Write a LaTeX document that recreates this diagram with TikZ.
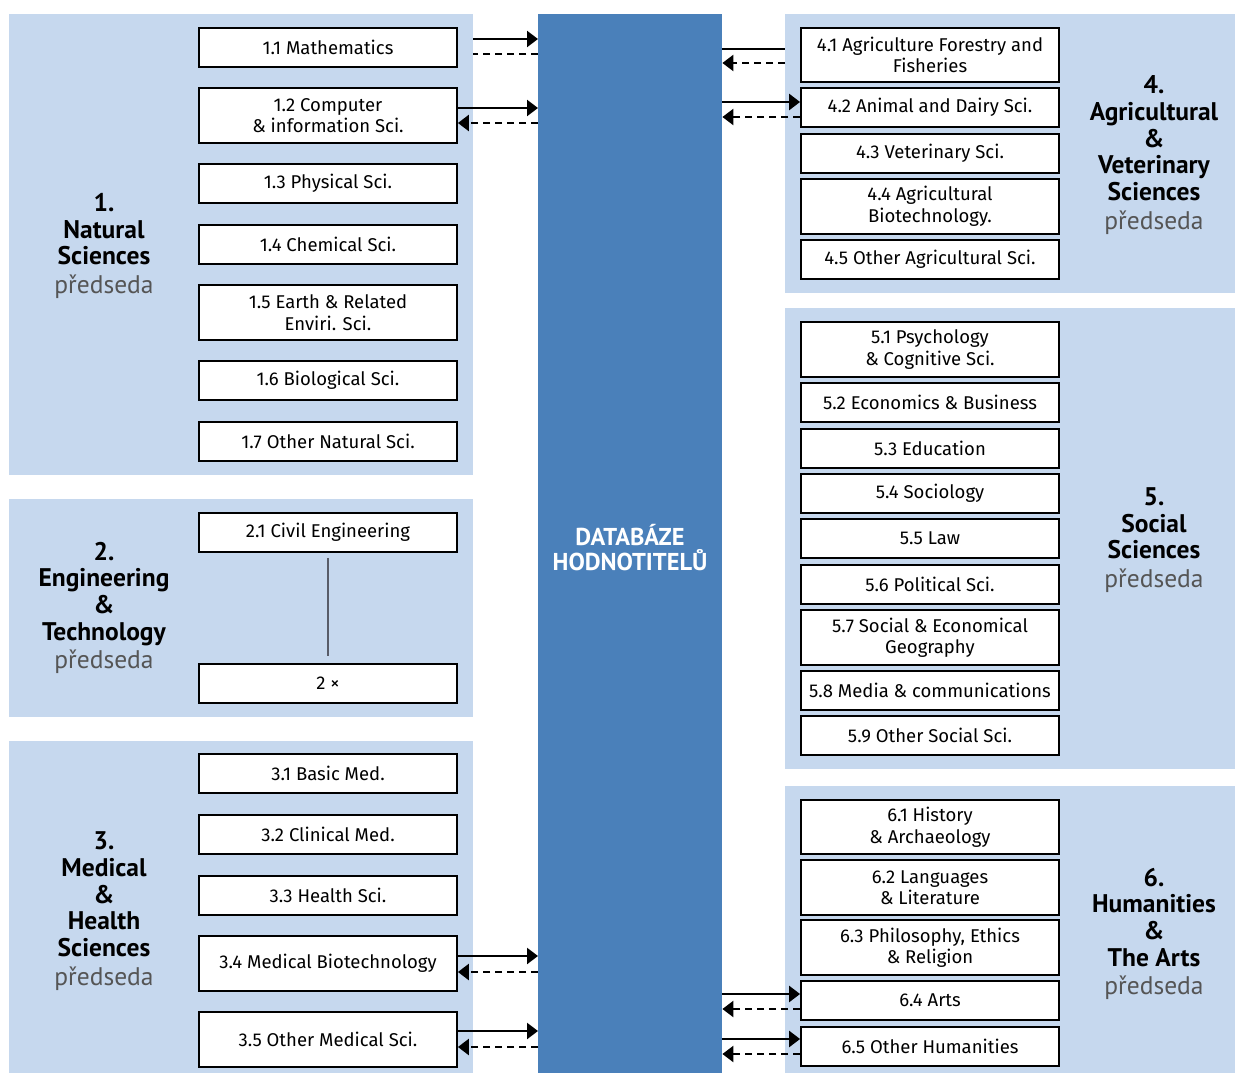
\documentclass[tikz,border=0pt]{standalone}
\usepackage{fontspec}
\setmainfont{Fira Sans}
\newfontfamily\labelfont{PT Sans}
\usetikzlibrary{arrows.meta,calc}
\definecolor{panelblue}{RGB}{198,216,238}
\definecolor{barblue}{RGB}{74,128,186}
\definecolor{chairgrey}{RGB}{85,85,85}
\definecolor{linegrey}{RGB}{88,92,104}
\tikzset{
  panel/.style={fill=panelblue, draw=none, inner sep=0, anchor=north west},
  sbox/.style={draw=black, fill=white, line width=1.8pt, minimum width=258pt, inner sep=0, align=center, font=\fontsize{18.5}{21.5}\selectfont},
  plabel/.style={align=center, inner sep=0, font=\labelfont\fontsize{25.5}{26.7}\selectfont\bfseries},
  toarrow/.style={line width=2.4pt, -{Triangle[length=11pt,width=16pt]}},
  fromarrow/.style={line width=2.4pt, dash pattern=on 7pt off 5pt, -{Triangle[length=11pt,width=16pt]}},
  plainsolid/.style={line width=2.4pt},
  plaindash/.style={line width=2.4pt, dash pattern=on 7pt off 5pt},
}
\newcommand{\chair}{\\[2pt]\mdseries\color{chairgrey}předseda}
\begin{document}
\begin{tikzpicture}[x=1pt,y=-1pt]
\useasboundingbox[fill=white] (0,0) rectangle (1235,1073);
% panels
\node[panel, minimum width=464pt, minimum height=461pt] (p1) at (9,14) {};
\node[panel, minimum width=464pt, minimum height=218pt] (p2) at (9,499) {};
\node[panel, minimum width=464pt, minimum height=332pt] (p3) at (9,741) {};
\node[panel, minimum width=450pt, minimum height=279pt] (p4) at (785,14) {};
\node[panel, minimum width=450pt, minimum height=461pt] (p5) at (785,308) {};
\node[panel, minimum width=450pt, minimum height=287pt] (p6) at (785,786) {};
% central bar
\node[fill=barblue, inner sep=0, minimum width=184pt, minimum height=1059pt, anchor=north west] (bar) at (538,14) {};
\node[text=white, align=center, inner sep=0, font=\labelfont\fontsize{24.4}{25}\selectfont\bfseries] (bartext) at (630,548) {DATABÁZE\\HODNOTITELŮ};
% panel labels
\node[plabel] (l1) at (104,246) {1.\\Natural\\Sciences\chair};
\node[plabel] (l2) at (104,608) {2.\\Engineering\\\&\\Technology\chair};
\node[plabel] (l3) at (104,911) {3.\\Medical\\\&\\Health\\Sciences\chair};
\node[plabel] (l4) at (1154,155) {4.\\Agricultural\\\&\\Veterinary\\Sciences\chair};
\node[plabel] (l5) at (1154,540) {5.\\Social\\Sciences\chair};
\node[plabel] (l6) at (1154,934) {6.\\Humanities\\\&\\The Arts\chair};
% left boxes
\node[sbox, minimum height=39pt] (b11) at (328,47.5) {1.1 Mathematics};
\node[sbox, minimum height=55pt] (b12) at (328,115.5) {1.2 Computer\\\& information Sci.};
\node[sbox, minimum height=39pt] (b13) at (328,183.5) {1.3 Physical Sci.};
\node[sbox, minimum height=39pt] (b14) at (328,244.5) {1.4 Chemical Sci.};
\node[sbox, minimum height=55pt] (b15) at (328,312.5) {1.5 Earth \& Related\\Enviri. Sci.};
\node[sbox, minimum height=39pt] (b16) at (328,380.5) {1.6 Biological Sci.};
\node[sbox, minimum height=39pt] (b17) at (328,441.5) {1.7 Other Natural Sci.};
\node[sbox, minimum height=39pt] (b21) at (328,532.5) {2.1 Civil Engineering};
\node[sbox, minimum height=39pt] (b2x) at (328,683.5) {2 ×};
\node[sbox, minimum height=39pt] (b31) at (328,773.5) {3.1 Basic Med.};
\node[sbox, minimum height=39pt] (b32) at (328,834.5) {3.2 Clinical Med.};
\node[sbox, minimum height=39pt] (b33) at (328,895.5) {3.3 Health Sci.};
\node[sbox, minimum height=55pt] (b34) at (328,963.5) {3.4 Medical Biotechnology};
\node[sbox, minimum height=55pt] (b35) at (328,1039.5) {3.5 Other Medical Sci.};
% right boxes
\node[sbox, minimum height=54pt] (b41) at (930,55) {4.1 Agriculture Forestry and\\Fisheries};
\node[sbox, minimum height=39pt] (b42) at (930,107.5) {4.2 Animal and Dairy Sci.};
\node[sbox, minimum height=39pt] (b43) at (930,153.5) {4.3 Veterinary Sci.};
\node[sbox, minimum height=55pt] (b44) at (930,206.5) {4.4 Agricultural\\Biotechnology.};
\node[sbox, minimum height=39pt] (b45) at (930,259.5) {4.5 Other Agricultural Sci.};
\node[sbox, minimum height=55pt] (b51) at (930,349.5) {5.1 Psychology\\\& Cognitive Sci.};
\node[sbox, minimum height=39pt] (b52) at (930,402.5) {5.2 Economics \& Business};
\node[sbox, minimum height=39pt] (b53) at (930,448.5) {5.3 Education};
\node[sbox, minimum height=39pt] (b54) at (930,493.5) {5.4 Sociology};
\node[sbox, minimum height=39pt] (b55) at (930,538.5) {5.5 Law};
\node[sbox, minimum height=39pt] (b56) at (930,584.5) {5.6 Political Sci.};
\node[sbox, minimum height=55pt] (b57) at (930,637.5) {5.7 Social \& Economical\\Geography};
\node[sbox, minimum height=39pt] (b58) at (930,690.5) {5.8 Media \& communications};
\node[sbox, minimum height=39pt] (b59) at (930,735.5) {5.9 Other Social Sci.};
\node[sbox, minimum height=54pt] (b61) at (930,827) {6.1 History\\\& Archaeology};
\node[sbox, minimum height=55pt] (b62) at (930,887.5) {6.2 Languages\\\& Literature};
\node[sbox, minimum height=55pt] (b63) at (930,947.5) {6.3 Philosophy, Ethics\\\& Religion};
\node[sbox, minimum height=39pt] (b64) at (930,1000.5) {6.4 Arts};
\node[sbox, minimum height=39pt] (b65) at (930,1046.5) {6.5 Other Humanities};
% connector 2.1 -- 2x
\draw[linegrey, line width=1.6pt] ([yshift=-5pt]b21.south) -- ([yshift=7pt]b2x.north);
% arrows left
\draw[toarrow] ([yshift=8.5pt]b11.east -| p1.east) -- ([yshift=8.5pt]b11.east -| bar.west);
\draw[plaindash] ([yshift=-6.5pt]b11.east -| bar.west) -- ([yshift=-6.5pt]b11.east -| p1.east);
\draw[toarrow] ([yshift=7.5pt]b12.east) -- ([yshift=7.5pt]b12.east -| bar.west);
\draw[fromarrow] ([yshift=-7.5pt]b12.east -| bar.west) -- ([yshift=-7.5pt]b12.east);
\draw[toarrow] ([yshift=7.5pt]b34.east) -- ([yshift=7.5pt]b34.east -| bar.west);
\draw[fromarrow] ([yshift=-8.5pt]b34.east -| bar.west) -- ([yshift=-8.5pt]b34.east);
\draw[toarrow] ([yshift=8.5pt]b35.east) -- ([yshift=8.5pt]b35.east -| bar.west);
\draw[fromarrow] ([yshift=-7.5pt]b35.east -| bar.west) -- ([yshift=-7.5pt]b35.east);
% arrows right
\draw[plainsolid] ([yshift=6pt]b41.west -| bar.east) -- ([yshift=6pt]b41.west -| p4.west);
\draw[fromarrow] ([yshift=-8pt]b41.west -| p4.west) -- ([yshift=-8pt]b41.west -| bar.east);
\draw[toarrow] ([yshift=5.5pt]b42.west -| bar.east) -- ([yshift=5.5pt]b42.west);
\draw[fromarrow] ([yshift=-9.5pt]b42.west) -- ([yshift=-9.5pt]b42.west -| bar.east);
\draw[toarrow] ([yshift=6.5pt]b64.west -| bar.east) -- ([yshift=6.5pt]b64.west);
\draw[fromarrow] ([yshift=-8.5pt]b64.west) -- ([yshift=-8.5pt]b64.west -| bar.east);
\draw[toarrow] ([yshift=7.5pt]b65.west -| bar.east) -- ([yshift=7.5pt]b65.west);
\draw[fromarrow] ([yshift=-7.5pt]b65.west) -- ([yshift=-7.5pt]b65.west -| bar.east);
\end{tikzpicture}
\end{document}
